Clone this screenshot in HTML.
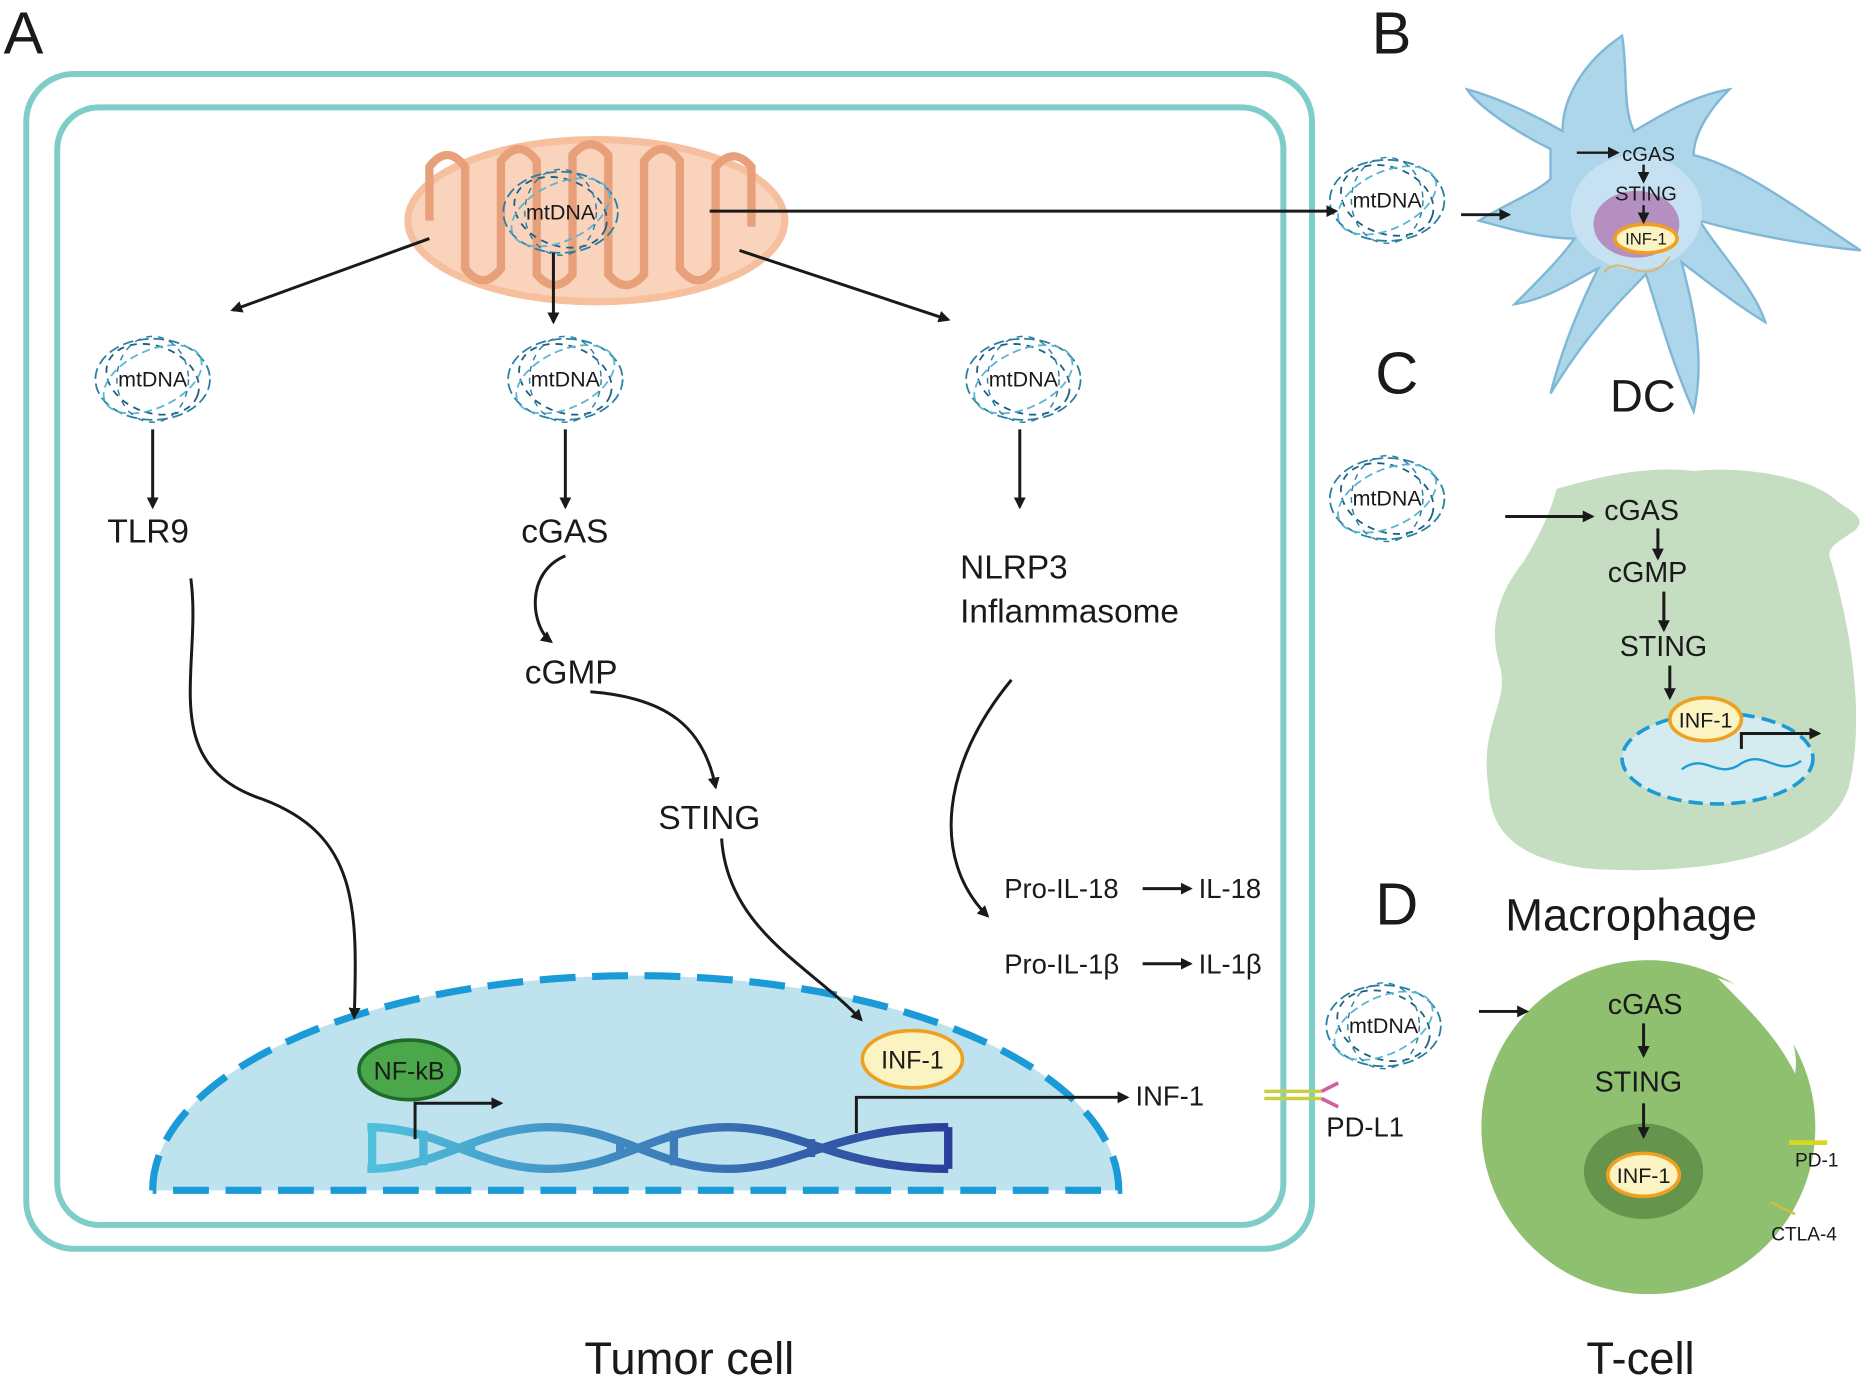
<!DOCTYPE html>
<html><head><meta charset="utf-8"><style>
html,body{margin:0;padding:0;background:#fff;}
svg{display:block;}
text{font-family:"Liberation Sans",Arial,sans-serif;fill:#1a1a1a;}
</style></head><body>
<svg width="1869" height="1380" viewBox="0 0 1567 1157" preserveAspectRatio="none" xmlns="http://www.w3.org/2000/svg">
<defs>
<marker id="ar" markerWidth="10" markerHeight="10" refX="8" refY="5" orient="auto" markerUnits="userSpaceOnUse"><path d="M0,0 L10,5 L0,10 Z" fill="#1a1a1a"/></marker>
<linearGradient id="dna" x1="0" x2="1"><stop offset="0" stop-color="#4fc0dc"/><stop offset="1" stop-color="#2b3f9a"/></linearGradient>
<g id="mt">
<ellipse cx="0" cy="0" rx="48" ry="34" fill="none" stroke="#2a7fa3" stroke-width="1.5" stroke-dasharray="9 4"/>
<ellipse cx="0" cy="0" rx="40" ry="28" fill="none" stroke="#1c5f80" stroke-width="1.5" stroke-dasharray="6 5" transform="rotate(20)"/>
<ellipse cx="0" cy="0" rx="44" ry="24" fill="none" stroke="#5ab4d4" stroke-width="1.5" stroke-dasharray="7 4" transform="rotate(-25)"/>
<ellipse cx="0" cy="0" rx="30" ry="36" fill="none" stroke="#2a7fa3" stroke-width="1.2" stroke-dasharray="5 5"/>
<text x="0" y="6" font-size="18" text-anchor="middle">mtDNA</text>
</g>
</defs>

<text x="3" y="45" font-size="50">A</text>
<rect x="22" y="62" width="1078" height="985" rx="40" fill="none" stroke="#7ecdc8" stroke-width="5"/>
<rect x="48" y="90" width="1028" height="937" rx="35" fill="none" stroke="#7ecdc8" stroke-width="5"/>

<ellipse cx="500" cy="185" rx="158" ry="68" fill="#f9d3bb" stroke="#f6bf9e" stroke-width="6"/>
<path d="M360,185 L360,140 Q375,120 390,140 L390,225 Q405,245 420,225 L420,135 Q435,115 450,135 L450,230 Q465,248 480,230 L480,130 Q495,112 510,130 L510,230 Q525,248 540,230 L540,135 Q555,115 570,135 L570,225 Q585,245 600,225 L600,140 Q615,122 630,140 L630,190" fill="none" stroke="#e8a07a" stroke-width="7"/>
<use href="#mt" x="470" y="178"/>

<use href="#mt" x="128" y="318"/>
<use href="#mt" x="474" y="318"/>
<use href="#mt" x="858" y="318"/>

<text x="90" y="455" font-size="28">TLR9</text>
<text x="437" y="455" font-size="28">cGAS</text>
<text x="805" y="485" font-size="28">NLRP3</text>
<text x="805" y="522" font-size="28">Inflammasome</text>
<text x="440" y="573" font-size="28">cGMP</text>
<text x="552" y="695" font-size="28">STING</text>
<text x="842" y="753" font-size="23">Pro-IL-18</text>
<text x="1005" y="753" font-size="23">IL-18</text>
<text x="842" y="816" font-size="23">Pro-IL-1β</text>
<text x="1005" y="816" font-size="23">IL-1β</text>

<path d="M128,998 A405,180 0 0 1 938,998 Z" fill="#bfe3ee"/>
<path d="M128,998 A405,180 0 0 1 938,998 L128,998" fill="none" stroke="#1a9ad6" stroke-width="6" stroke-dasharray="30 14"/>
<ellipse cx="343" cy="897" rx="42" ry="25" fill="#4aa84a" stroke="#1f6b2b" stroke-width="3"/>
<text x="343" y="905" font-size="21" text-anchor="middle">NF-kB</text>
<ellipse cx="765" cy="888" rx="42" ry="24" fill="#fbf3c2" stroke="#f0a020" stroke-width="3"/>
<text x="765" y="896" font-size="21" text-anchor="middle">INF-1</text>
<g stroke="url(#dna)" stroke-width="7" fill="none">
<path d="M308,945 C370,945 400,980 460,980 C520,980 550,945 610,945 C670,945 700,980 795,980"/>
<path d="M308,980 C370,980 400,945 460,945 C520,945 550,980 610,980 C670,980 700,945 795,945"/>
<path d="M312,945 L312,980 M355,948 L355,977 M395,958 L395,967 M520,958 L520,967 M565,948 L565,977 M680,955 L680,970 M795,945 L795,980"/>
</g>
<text x="952" y="927" font-size="23">INF-1</text>
<g stroke-width="3">
<line x1="1060" y1="915" x2="1108" y2="915" stroke="#c8d040"/>
<line x1="1060" y1="921" x2="1108" y2="921" stroke="#c8d040"/>
<line x1="1108" y1="915" x2="1122" y2="908" stroke="#d060a0"/>
<line x1="1108" y1="921" x2="1122" y2="928" stroke="#d060a0"/>
</g>
<text x="1112" y="953" font-size="23">PD-L1</text>
<text x="490" y="1152" font-size="38">Tumor cell</text>

<text x="1150" y="45" font-size="50">B</text>
<path d="M1300,125 C1270,110 1240,90 1230,75 C1250,80 1285,95 1310,110 C1310,80 1330,50 1360,30 C1365,60 1360,90 1370,110 C1395,95 1420,80 1450,75 C1430,95 1420,115 1420,130 C1460,140 1500,170 1560,210 C1510,205 1460,195 1425,185 C1440,210 1470,240 1480,270 C1455,255 1430,235 1410,220 C1420,260 1430,300 1420,345 C1400,300 1390,260 1380,230 C1360,250 1330,280 1300,330 C1310,290 1325,255 1340,225 C1320,235 1300,250 1270,255 C1290,235 1310,215 1320,200 C1290,200 1260,190 1240,185 C1265,170 1290,160 1300,150 Z" fill="#aed6ea" stroke="#7fb8d6" stroke-width="2"/>
<ellipse cx="1372" cy="178" rx="55" ry="48" fill="#c6e2f2"/>
<ellipse cx="1372" cy="188" rx="36" ry="28" fill="#b58fc0"/>
<ellipse cx="1380" cy="200" rx="26" ry="12" fill="#fbf3c2" stroke="#f0a020" stroke-width="3"/>
<text x="1380" y="205" font-size="14" text-anchor="middle">INF-1</text>
<text x="1360" y="135" font-size="17">cGAS</text>
<text x="1354" y="168" font-size="17">STING</text>
<path d="M1345,228 C1360,210 1380,245 1400,215" stroke="#e8b060" stroke-width="1.5" fill="none"/>
<use href="#mt" x="1163" y="168"/>
<text x="1350" y="345" font-size="38">DC</text>

<text x="1153" y="330" font-size="50">C</text>
<use href="#mt" x="1163" y="418"/>
<path d="M1305,410 C1340,400 1380,390 1420,395 C1460,390 1520,400 1540,420 C1555,430 1565,435 1555,445 C1540,455 1530,460 1535,470 C1550,520 1565,600 1550,660 C1530,720 1420,735 1330,728 C1275,720 1250,700 1248,660 C1240,610 1265,590 1258,560 C1245,520 1262,490 1278,470 C1290,450 1300,430 1305,410 Z" fill="#c5ddc0"/>
<ellipse cx="1440" cy="636" rx="80" ry="38" fill="#d4ecef" stroke="#1a9ad6" stroke-width="3" stroke-dasharray="12 6"/>
<text x="1345" y="436" font-size="24">cGAS</text>
<text x="1348" y="488" font-size="24">cGMP</text>
<text x="1358" y="550" font-size="24">STING</text>
<ellipse cx="1430" cy="603" rx="30" ry="18" fill="#fbf3c2" stroke="#f0a020" stroke-width="3"/>
<text x="1430" y="610" font-size="18" text-anchor="middle">INF-1</text>
<path d="M1410,645 C1430,630 1440,655 1460,640 C1480,628 1490,652 1510,638" stroke="#1a9ad6" stroke-width="2" fill="none"/>
<text x="1262" y="780" font-size="38">Macrophage</text>

<text x="1153" y="775" font-size="50">D</text>
<use href="#mt" x="1160" y="860"/>
<circle cx="1382" cy="945" r="140" fill="#8fc06f"/>
<path d="M1440,820 C1490,835 1510,870 1505,900 C1490,870 1470,850 1440,820 Z" fill="#fff"/>
<ellipse cx="1378" cy="982" rx="50" ry="40" fill="#65944c"/>
<text x="1348" y="850" font-size="24">cGAS</text>
<text x="1337" y="915" font-size="24">STING</text>
<ellipse cx="1378" cy="985" rx="30" ry="18" fill="#fbf3c2" stroke="#f0a020" stroke-width="3"/>
<text x="1378" y="992" font-size="18" text-anchor="middle">INF-1</text>
<line x1="1500" y1="958" x2="1532" y2="958" stroke="#d8d820" stroke-width="4"/>
<text x="1505" y="978" font-size="16">PD-1</text>
<line x1="1485" y1="1008" x2="1505" y2="1018" stroke="#d0c040" stroke-width="2"/>
<text x="1485" y="1040" font-size="16">CTLA-4</text>
<text x="1330" y="1152" font-size="38">T-cell</text>

<g stroke="#1a1a1a" stroke-width="2.5" fill="none" marker-end="url(#ar)">
<line x1="360" y1="200" x2="195" y2="260"/>
<line x1="464" y1="212" x2="464" y2="270"/>
<line x1="620" y1="210" x2="795" y2="268"/>
<line x1="595" y1="177" x2="1120" y2="177"/>
<line x1="128" y1="360" x2="128" y2="425"/>
<line x1="474" y1="360" x2="474" y2="425"/>
<line x1="855" y1="360" x2="855" y2="425"/>
<path d="M160,485 C170,560 130,640 220,670 C300,700 300,760 297,853"/>
<path d="M474,466 C440,480 445,525 462,538"/>
<path d="M495,580 C560,585 590,610 600,660"/>
<path d="M605,703 C610,780 680,810 722,855"/>
<path d="M848,570 C790,640 780,720 828,768"/>
<line x1="958" y1="745" x2="998" y2="745"/>
<line x1="958" y1="808" x2="998" y2="808"/>
<path d="M348,955 L348,925 L420,925"/>
<path d="M718,950 L718,920 L945,920"/>
<line x1="1225" y1="180" x2="1265" y2="180"/>
<line x1="1262" y1="433" x2="1335" y2="433"/>
<line x1="1240" y1="848" x2="1280" y2="848"/>
<line x1="1390" y1="443" x2="1390" y2="468"/>
<line x1="1395" y1="496" x2="1395" y2="528"/>
<line x1="1400" y1="558" x2="1400" y2="585"/>
<path d="M1460,628 L1460,615 L1525,615"/>
<line x1="1378" y1="858" x2="1378" y2="885"/>
<line x1="1378" y1="925" x2="1378" y2="953"/>
</g>
<g stroke="#1a1a1a" stroke-width="2" marker-end="url(#ar)">
<line x1="1322" y1="128" x2="1356" y2="128"/>
<line x1="1378" y1="138" x2="1378" y2="152"/>
<line x1="1378" y1="172" x2="1378" y2="186"/>
</g>
</svg>
</body></html>
